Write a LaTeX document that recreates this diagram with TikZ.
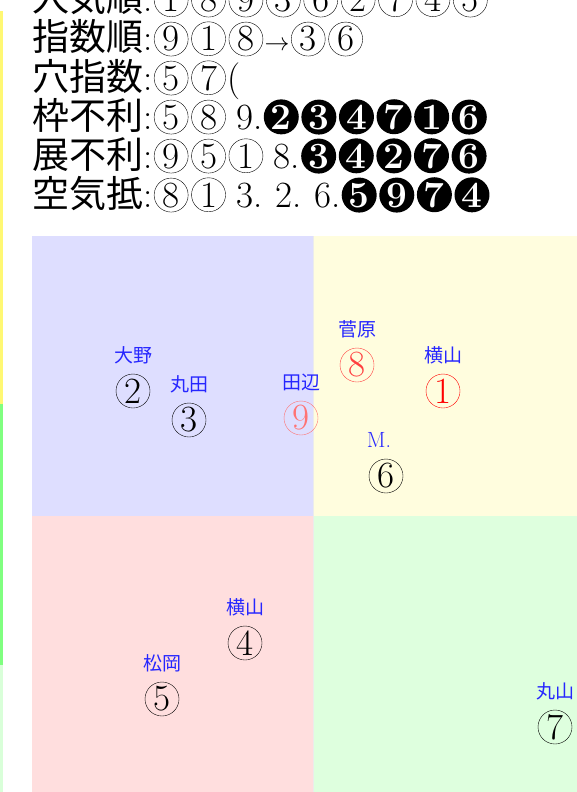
\documentclass[tikz,border=0pt]{standalone}
\usepackage{fontspec}
\usepackage{amsmath}
\usepackage{tikz}
\usetikzlibrary{positioning}
\newfontfamily\jp{Noto Sans CJK JP}
\newcommand{\maru}[1]{\kern1.5pt\tikz[baseline=(m.base)]\node[circle, draw, inner sep=0pt, minimum size=34pt] (m) {#1};\kern1.5pt\relax}
\newcommand{\kuro}[1]{\kern1.3pt\tikz[baseline=(k.base)]\node[circle, fill=black, text=white, inner sep=0pt, minimum size=35pt, font=\bfseries] (k) {#1};\kern1.3pt\relax}

\begin{document}
\begin{tikzpicture}[x=1pt, y=1pt,
    txt/.style={anchor=base west, inner sep=0pt, font=\fontsize{37}{39}\selectfont},
    num/.style={circle, draw, inner sep=0pt, minimum size=34pt, font=\fontsize{37}{39}\selectfont},
    lbl/.style={inner sep=0pt, text=blue!85, text height=15pt, text depth=3pt, font=\jp\fontsize{19}{19}\selectfont}]
    \useasboundingbox (0,0) rectangle (577,-792);
    % field
    \fill[blue!13] (32,-236) rectangle (313,-516);
    \fill[yellow!13] (313,-236) rectangle (577,-516);
    \fill[red!13] (32,-516) rectangle (313,-792);
    \fill[green!13] (313,-516) rectangle (577,-792);
    \draw[black!8, line width=0.6pt] (313,-236) -- (313,-792);
    % side strip
    \fill[yellow!55] (0,-11) rectangle (3,-404);
    \fill[green!50] (0,-404) rectangle (3,-665);
    \fill[green!15] (0,-665) rectangle (3,-792);
    % text lines
    \node[txt] (l1) at (32,-12) {{\jp 人気順}:\maru{1}\maru{8}\maru{9}\maru{3}\maru{6}\maru{2}\maru{7}\maru{4}\maru{5}};
    \node[txt] (l2) at ([yshift=-39pt]l1.base west) {{\jp 指数順}:\maru{9}\maru{1}\maru{8}$\rightarrow$\maru{3}\maru{6}};
    \node[txt] (l3) at ([yshift=-39pt]l2.base west) {{\jp 穴指数}:\maru{5}\maru{7}(};
    \node[txt] (l4) at ([yshift=-39pt]l3.base west) {\spaceskip=9pt\relax{\jp 枠不利}:\maru{5}\maru{8} 9.\kuro{2}\kuro{3}\kuro{4}\kuro{7}\kuro{1}\kuro{6}};
    \node[txt] (l5) at ([yshift=-39pt]l4.base west) {\spaceskip=9pt\relax{\jp 展不利}:\maru{9}\maru{5}\maru{1} 8.\kuro{3}\kuro{4}\kuro{2}\kuro{7}\kuro{6}};
    \node[txt] (l6) at ([yshift=-39pt]l5.base west) {\spaceskip=9pt\relax{\jp 空気抵}:\maru{8}\maru{1} 3. 2. 6.\kuro{5}\kuro{9}\kuro{7}\kuro{4}};
    % horses
    \node[num] (n2) at (133,-391) {2};
    \node[lbl, above=8pt of n2] (a2) {大野};
    \node[num] (n3) at (189,-420) {3};
    \node[lbl, above=8pt of n3] (a3) {丸田};
    \node[num, color=red!55] (n9) at (301,-418) {9};
    \node[lbl, above=8pt of n9] (a9) {田辺};
    \node[num, color=red!75] (n8) at (357,-365) {8};
    \node[lbl, above=8pt of n8] (a8) {菅原};
    \node[num, color=red] (n1) at (443,-391) {1};
    \node[lbl, above=8pt of n1] (a1) {横山};
    \node[num] (n6) at (386,-476) {6};
    \node[lbl, font=\fontsize{22}{22}\selectfont, above=8pt of n6, xshift=-7pt] (a6) {M.};
    \node[num] (n4) at (245,-643) {4};
    \node[lbl, above=8pt of n4] (a4) {横山};
    \node[num] (n5) at (162,-699) {5};
    \node[lbl, above=8pt of n5] (a5) {松岡};
    \node[num] (n7) at (555,-727) {7};
    \node[lbl, above=8pt of n7] (a7) {丸山};
\end{tikzpicture}
\end{document}
